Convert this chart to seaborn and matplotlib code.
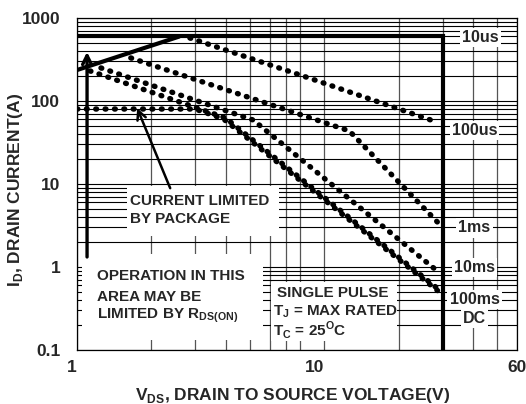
import matplotlib
matplotlib.use("Agg")
import matplotlib.pyplot as plt
import numpy as np
import pandas as pd
import seaborn as sns
from matplotlib.ticker import FixedLocator, NullFormatter
from matplotlib.patches import Rectangle

# ---- data (V_DS in volts, I_D in amps) ----
v_rds = [1.0, 2.6]            # R_DS(on) limit, thick solid
i_rds = [236, 600]
v_10us = [1.0, 30.0, 30.0]    # 10us boundary: 600 A then BVDSS
i_10us = [600, 600, 0.1]
v_100us = [2.86, 8.9, 28.3]
i_100us = [574, 184, 56]
v_1ms = [1.65, 12.6, 29.1]
i_1ms = [330, 43.6, 3.3]
v_10ms = [1.25, 5.15, 28.5]
i_10ms = [250, 59, 0.9]
v_100ms = [1.13, 3.97, 29.1]
i_100ms = [230, 62.8, 0.53]
v_dc = [1.0, 3.0, 3.9, 29.1]
i_dc = [80, 80, 61, 0.5]

curve_names = ["10us", "100us", "1ms", "10ms", "100ms", "DC"]
label_v = [42.6, 40.4, 40.4, 40.4, 40.4, 40.4]
label_i = [582, 43.6, 2.95, 0.99, 0.41, 0.24]

x_ticks = [1, 10, 60]
x_ticklabels = ["1", "10", "60"]
x_minor = [2, 3, 4, 5, 6, 7, 8, 20, 30, 40, 50]
y_ticks = [0.1, 1, 10, 100, 1000]
y_ticklabels = ["0.1", "1", "10", "100", "1000"]

sns.set_style("white")
plt.rcParams["font.family"] = ["Liberation Sans", "DejaVu Sans"]
plt.rcParams["font.weight"] = "bold"
plt.rcParams["axes.labelweight"] = "bold"
plt.rcParams["axes.linewidth"] = 0.9

fig = plt.figure(figsize=(5.26, 4.04), dpi=100)
ax = fig.add_axes([0.1464, 0.1337, 0.8365, 0.8218])
ax.set_xscale("log")
ax.set_yscale("log")
ax.set_xlim(1, 60)
ax.set_ylim(0.1, 1000)

# grid: horizontal black, vertical grey (no line at 9 V)
ax.xaxis.set_major_locator(FixedLocator(x_ticks))
ax.xaxis.set_minor_locator(FixedLocator(x_minor))
ax.xaxis.set_minor_formatter(NullFormatter())
ax.yaxis.set_major_locator(FixedLocator(y_ticks))
ax.yaxis.set_minor_locator(FixedLocator([m * d for d in [0.1, 1, 10, 100] for m in range(2, 10)]))
ax.yaxis.set_minor_formatter(NullFormatter())
ax.set_xticklabels(x_ticklabels)
ax.set_yticklabels(y_ticklabels)
ax.grid(which="both", axis="x", color="#555555", lw=0.9)
ax.grid(which="both", axis="y", color="black", lw=0.8)
ax.set_axisbelow(True)
ax.tick_params(which="both", length=0, labelsize=12.5)
ax.tick_params(axis="x", pad=7)
ax.tick_params(axis="y", pad=12)
for lbl, ha in zip(ax.get_xticklabels(), ["right", "right", "center"]):
    lbl.set_horizontalalignment(ha)
for s in ax.spines.values():
    s.set_color("black")

# white boxes hiding the grid behind the notes
for (x0, y0, w, h) in [(0.1136, 0.3434, 0.3455, 0.1506),
                       (0.0114, 0.0301, 0.4114, 0.2590),
                       (0.4409, 0.0271, 0.2864, 0.1777)]:
    ax.add_patch(Rectangle((x0, y0), w, h, transform=ax.transAxes,
                           facecolor="white", edgecolor="none", zorder=1))

# thick solid limits
sns.lineplot(x=v_rds, y=i_rds, ax=ax, color="black", lw=3.0, sort=False,
             estimator=None, solid_capstyle="butt", zorder=3)
sns.lineplot(x=v_10us, y=i_10us, ax=ax, color="black", lw=3.0, sort=False,
             estimator=None, solid_joinstyle="miter", zorder=3)

# dotted curves
dot = dict(color="black", lw=3.9, linestyle=(0, (0.15, 1.58)),
           dash_capstyle="round", sort=False, estimator=None, zorder=3)
for v, i in [(v_100us, i_100us), (v_1ms, i_1ms), (v_10ms, i_10ms),
             (v_100ms, i_100ms), (v_dc, i_dc)]:
    sns.lineplot(x=v, y=i, ax=ax, **dot)

# curve labels
for name, v, i in zip(curve_names, label_v, label_i):
    ax.text(v, i, name, ha="center", va="center", fontsize=11.5, zorder=4,
            bbox=dict(facecolor="white", edgecolor="none", pad=1.5))

# arrows
ax.annotate("", xy=(1.098, 390), xytext=(1.098, 1.32), zorder=4,
            arrowprops=dict(arrowstyle="->", lw=2.4, color="black",
                            mutation_scale=16, shrinkA=0, shrinkB=0))
ax.annotate("", xy=(1.75, 82), xytext=(2.38, 8.9), zorder=4,
            arrowprops=dict(arrowstyle="->", lw=1.8, color="black",
                            mutation_scale=16, shrinkA=0, shrinkB=0))

# notes
notes = [
    (0.1205, 0.4367, "CURRENT LIMITED"),
    (0.1205, 0.3825, "BY PACKAGE"),
    (0.0455, 0.2108, "OPERATION IN THIS"),
    (0.0455, 0.1476, "AREA MAY BE"),
    (0.0455, 0.0964, r"LIMITED BY R$_\mathregular{DS(ON)}$"),
    (0.4545, 0.1596, "SINGLE PULSE"),
    (0.4455, 0.1054, r"T$_\mathregular{J}$ = MAX RATED"),
    (0.4455, 0.0452, r"T$_\mathregular{C}$ = 25$^\mathregular{O}$C"),
]
for x, y, t in notes:
    ax.text(x, y, t, transform=ax.transAxes, ha="left", va="baseline",
            fontsize=11, zorder=4)

ax.set_xlabel(r"V$_\mathregular{DS}$, DRAIN TO SOURCE VOLTAGE(V)", fontsize=12.5,
              fontweight="bold")
ax.set_ylabel(r"I$_\mathregular{D}$, DRAIN CURRENT(A)", fontsize=12.5,
              fontweight="bold")
ax.xaxis.set_label_coords(0.489, -0.108)
ax.yaxis.set_label_coords(-0.118, 0.482)

fig.savefig("out.png", dpi=100)
